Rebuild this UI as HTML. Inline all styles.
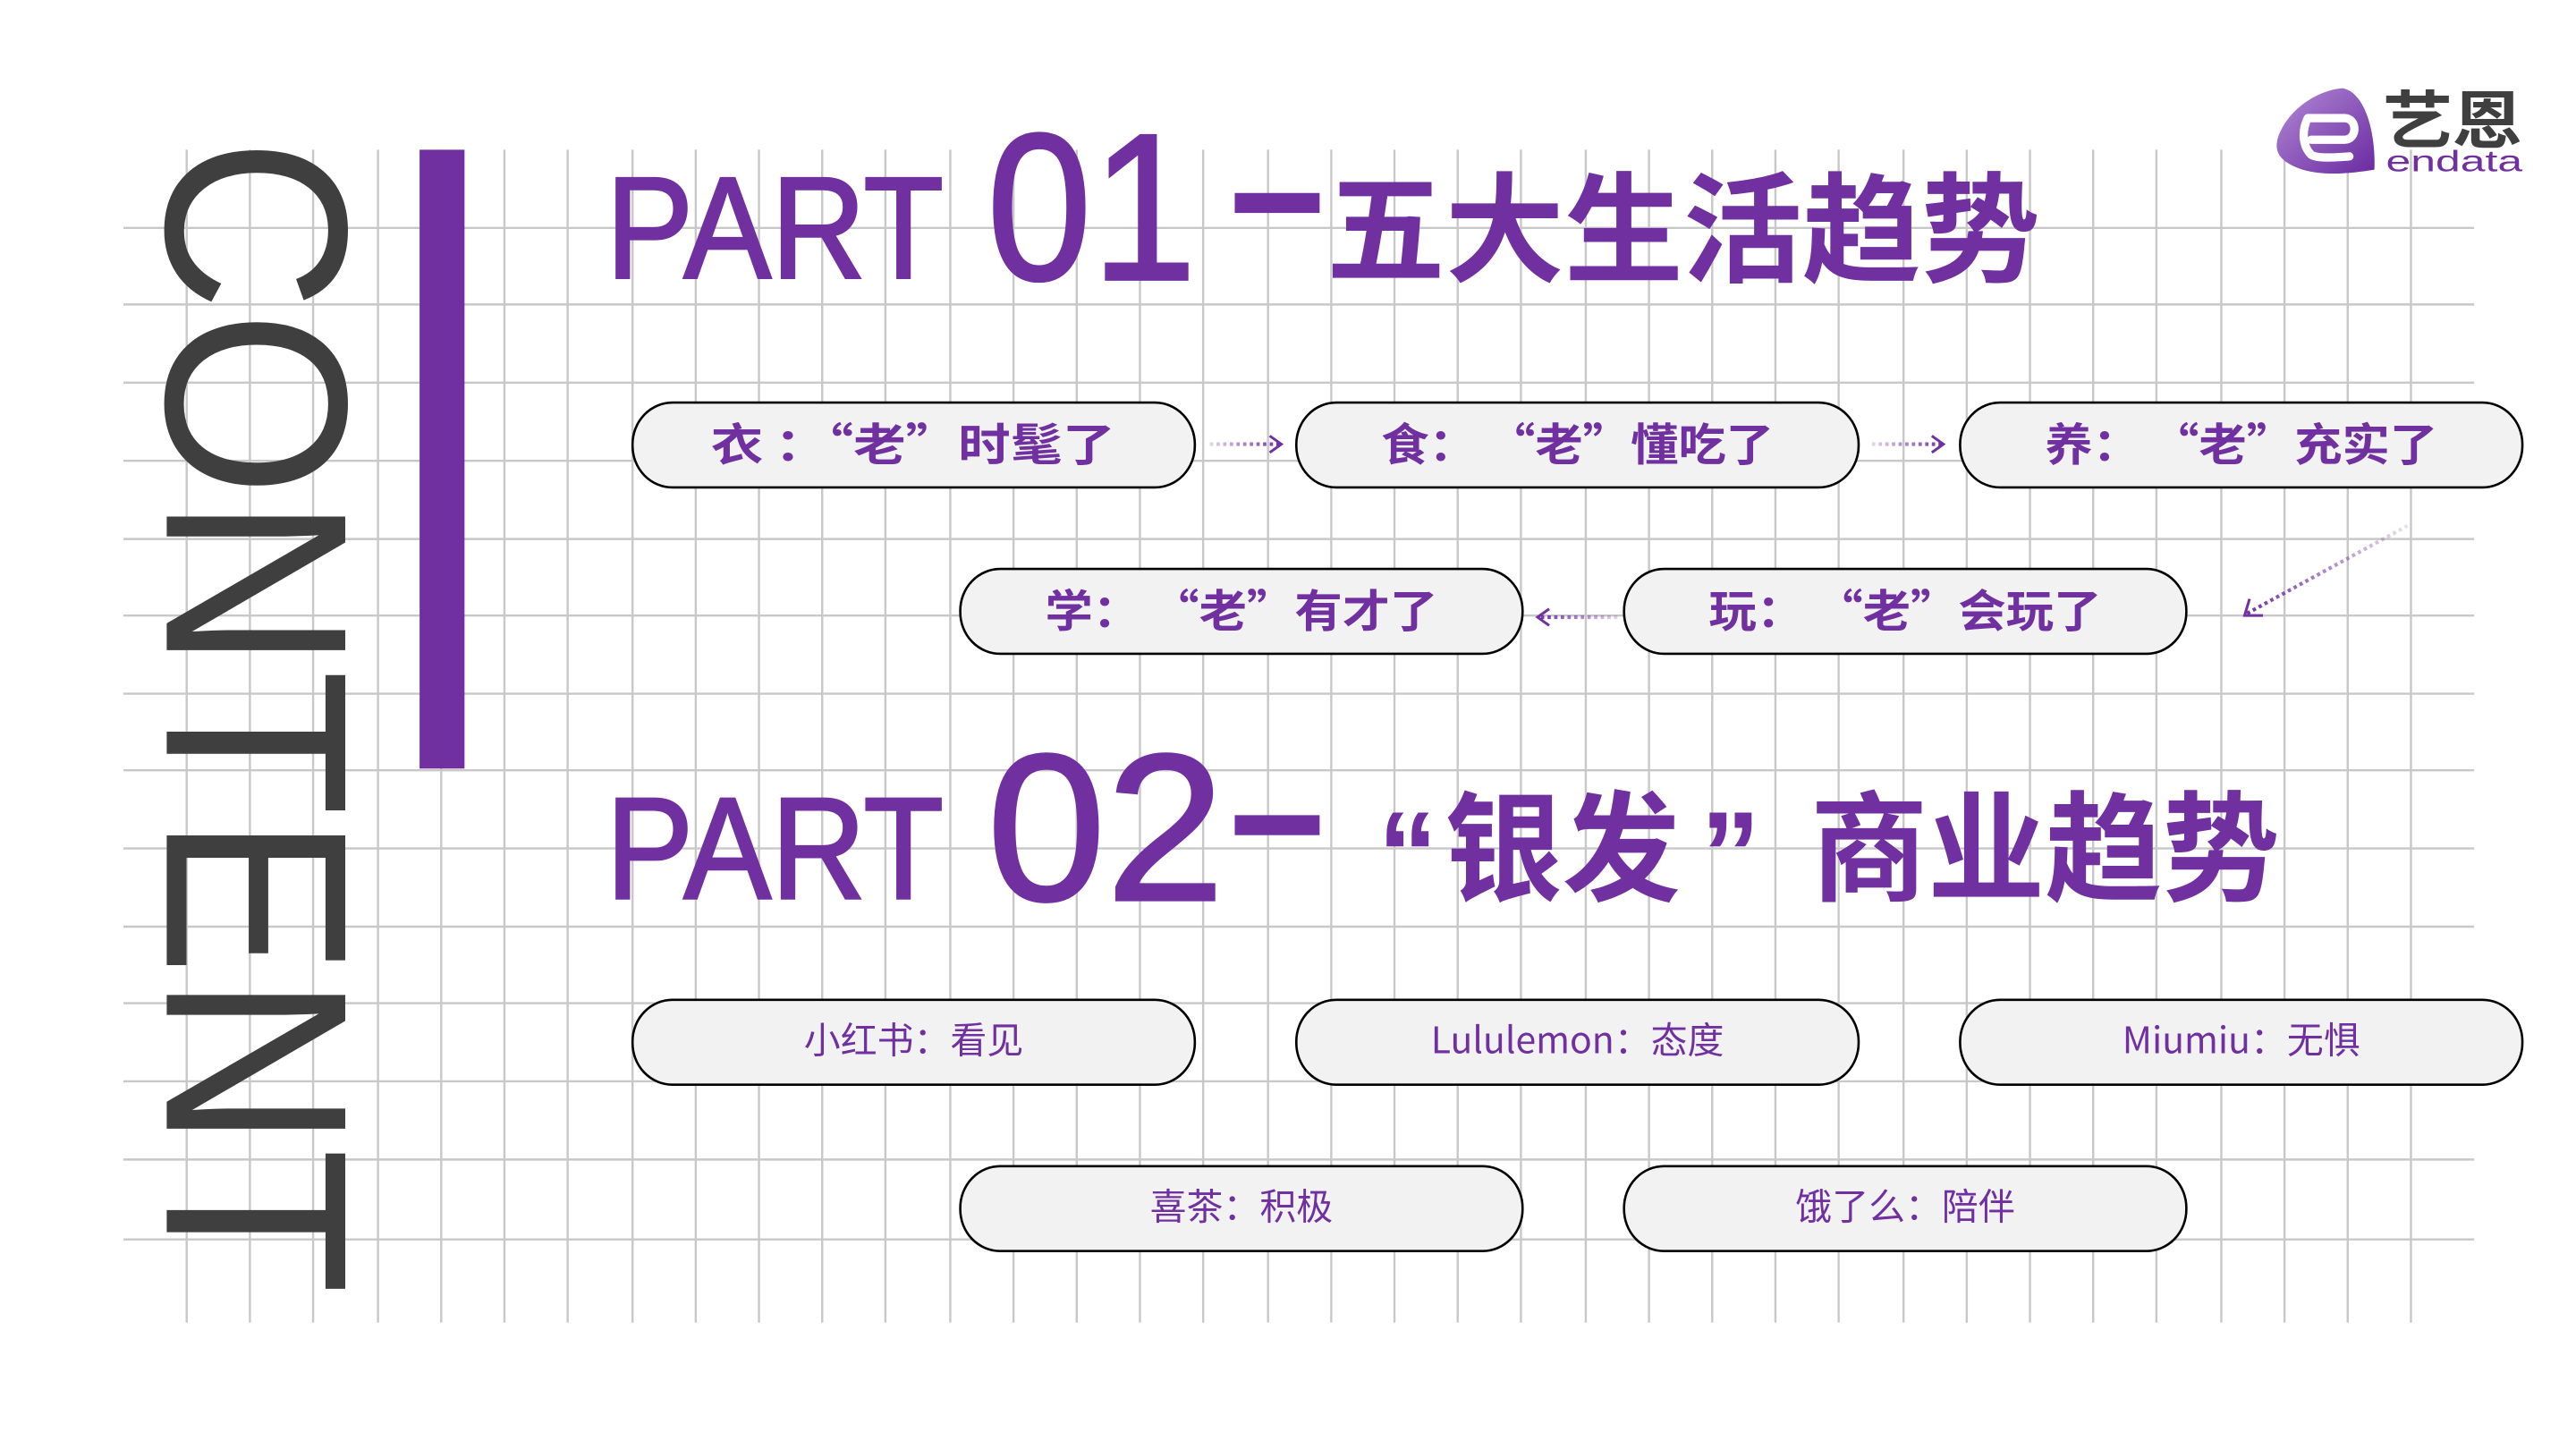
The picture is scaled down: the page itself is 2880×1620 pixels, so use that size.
<!DOCTYPE html>
<html><head><meta charset="utf-8"><style>
html,body{margin:0;padding:0;background:#fff;width:2880px;height:1620px;overflow:hidden}
svg{display:block}
.cj{font-family:"Noto Sans CJK SC","Liberation Sans",sans-serif}
</style></head><body>
<svg width="2880" height="1620" viewBox="0 0 1548 871" xmlns="http://www.w3.org/2000/svg">
<defs>
<linearGradient id="g1" gradientUnits="userSpaceOnUse" x1="727" y1="0" x2="770" y2="0"><stop offset="0" stop-color="#7030a0" stop-opacity="0.2"/><stop offset="1" stop-color="#7030a0"/></linearGradient>
<linearGradient id="g2" gradientUnits="userSpaceOnUse" x1="1125" y1="0" x2="1168" y2="0"><stop offset="0" stop-color="#7030a0" stop-opacity="0.2"/><stop offset="1" stop-color="#7030a0"/></linearGradient>
<linearGradient id="g3" gradientUnits="userSpaceOnUse" x1="972" y1="0" x2="924" y2="0"><stop offset="0" stop-color="#7030a0" stop-opacity="0.2"/><stop offset="1" stop-color="#7030a0"/></linearGradient>
<linearGradient id="gd" gradientUnits="userSpaceOnUse" x1="1447" y1="316" x2="1350" y2="370"><stop offset="0" stop-color="#7030a0" stop-opacity="0.15"/><stop offset="1" stop-color="#7030a0"/></linearGradient>
<linearGradient id="lg" x1="0" y1="0" x2="1" y2="1"><stop offset="0" stop-color="#b28ad6"/><stop offset="1" stop-color="#6a2aa0"/></linearGradient>
</defs>
<g stroke="#c8c8c8" stroke-width="1.3">
<path d="M112 90V795M150 90V795M188 90V795M227 90V795M265 90V795M303 90V795M341 90V795M380 90V795M418 90V795M456 90V795M494 90V795M532 90V795M571 90V795M609 90V795M647 90V795M685 90V795M723 90V795M762 90V795M800 90V795M838 90V795M876 90V795M914 90V795M953 90V795M991 90V795M1029 90V795M1067 90V795M1105 90V795M1144 90V795M1182 90V795M1220 90V795M1258 90V795M1296 90V795M1335 90V795M1373 90V795M1411 90V795M1449 90V795"/>
<path d="M74 137H1487M74 183H1487M74 230H1487M74 277H1487M74 324H1487M74 370H1487M74 417H1487M74 463H1487M74 510H1487M74 557H1487M74 603H1487M74 650H1487M74 697H1487M74 745H1487"/>
</g>
<text transform="translate(100,83) rotate(90)" font-family="Liberation Sans" font-size="156" fill="#3f3f3f" textLength="695" lengthAdjust="spacingAndGlyphs">CONTENT</text>
<rect x="252" y="90" width="27" height="372" fill="#7030a0"/>
<g fill="#7030a0" stroke="#7030a0">
<text x="364" y="167" font-family="Liberation Sans" font-size="87" stroke-width="1.5" textLength="203" lengthAdjust="spacingAndGlyphs">PART</text>
<text x="593" y="168" font-family="Liberation Sans" font-size="126" stroke-width="1.5" textLength="126" lengthAdjust="spacingAndGlyphs">01</text>
<text x="364" y="540" font-family="Liberation Sans" font-size="87" stroke-width="1.5" textLength="203" lengthAdjust="spacingAndGlyphs">PART</text>
<text x="593" y="541" font-family="Liberation Sans" font-size="126" stroke-width="1.5" textLength="143" lengthAdjust="spacingAndGlyphs">02</text>
</g>
<g fill="#7030a0">
<rect x="742" y="116" width="51" height="12"/>
<text x="797" y="164" class="cj" font-size="72" font-weight="bold" textLength="429" lengthAdjust="spacingAndGlyphs">五大生活趋势</text>
<rect x="742" y="490" width="51" height="12"/>
<text x="828" y="538" font-family="Liberation Sans" font-size="72" font-weight="bold">“</text>
<text x="868" y="536" class="cj" font-size="72" font-weight="bold" textLength="142" lengthAdjust="spacingAndGlyphs">银发</text>
<text x="1022" y="538" font-family="Liberation Sans" font-size="72" font-weight="bold">”</text>
<text x="1088" y="536" class="cj" font-size="72" font-weight="bold" textLength="282" lengthAdjust="spacingAndGlyphs">商业趋势</text>
</g>
<g fill="#f2f2f2" stroke="#000" stroke-width="1.4">
<rect x="380" y="242" width="338" height="51" rx="24" ry="25"/>
<rect x="779" y="242" width="338" height="51" rx="24" ry="25"/>
<rect x="1178" y="242" width="338" height="51" rx="24" ry="25"/>
<rect x="577" y="342" width="338" height="51" rx="24" ry="25"/>
<rect x="976" y="342" width="338" height="51" rx="24" ry="25"/>
<rect x="380" y="601" width="338" height="51" rx="24" ry="25"/>
<rect x="779" y="601" width="338" height="51" rx="24" ry="25"/>
<rect x="1178" y="601" width="338" height="51" rx="24" ry="25"/>
<rect x="577" y="701" width="338" height="51" rx="24" ry="25"/>
<rect x="976" y="701" width="338" height="51" rx="24" ry="25"/>
</g>
<g class="cj" fill="#7030a0" font-size="27" font-weight="bold">
<text x="427" y="277" textLength="243" lengthAdjust="spacingAndGlyphs">衣 ：“老”时髦了</text>
<text x="830" y="277" textLength="236" lengthAdjust="spacingAndGlyphs">食： “老”懂吃了</text>
<text x="1229" y="277" textLength="236" lengthAdjust="spacingAndGlyphs">养： “老”充实了</text>
<text x="628" y="377" textLength="236" lengthAdjust="spacingAndGlyphs">学： “老”有才了</text>
<text x="1027" y="377" textLength="236" lengthAdjust="spacingAndGlyphs">玩： “老”会玩了</text>
</g>
<g class="cj" fill="#7030a0" font-size="22" text-anchor="middle">
<text x="549" y="633">小红书：看见</text>
<text x="948" y="633">Lululemon：态度</text>
<text x="1347" y="633">Miumiu：无惧</text>
<text x="746" y="733">喜茶：积极</text>
<text x="1145" y="733">饿了么：陪伴</text>
</g>
<g fill="none" stroke-width="2.2">
<path d="M727 267H770" stroke="url(#g1)" stroke-dasharray="2 2"/>
<path d="M763 262L770 267L763 272" stroke="#7030a0" stroke-width="1.6"/>
<path d="M1125 267H1168" stroke="url(#g2)" stroke-dasharray="2 2"/>
<path d="M1161 262L1168 267L1161 272" stroke="#7030a0" stroke-width="1.6"/>
<path d="M972 371H924" stroke="url(#g3)" stroke-dasharray="2 2"/>
<path d="M931 366L924 371L931 376" stroke="#7030a0" stroke-width="1.6"/>
<path d="M1447 316L1350 369" stroke="url(#gd)" stroke-dasharray="2 2"/>
<path d="M1352 360L1349 370L1360 370" stroke="#7030a0" stroke-width="1.6"/>
</g>
<g>
<path d="M1408 53C1394 54 1378 64 1371 78C1365 90 1369 97 1384 102C1398 106 1414 104 1427 102C1428 84 1423 56 1408 53Z" fill="url(#lg)"/>
<path d="M1387 71H1409C1417 71 1417 84 1409 84H1389M1387 71C1383 79 1384 88 1389 93C1392 95 1400 95 1412 94" fill="none" stroke="#fff" stroke-width="5" stroke-linecap="round"/>
<text x="1432" y="86" class="cj" font-size="38" font-weight="bold" fill="#3f3f3f" textLength="84" lengthAdjust="spacingAndGlyphs">艺恩</text>
<text x="1434" y="103" font-family="Liberation Sans" font-size="18" fill="#7030a0" textLength="82" lengthAdjust="spacingAndGlyphs">endata</text>
</g>
</svg>
</body></html>
